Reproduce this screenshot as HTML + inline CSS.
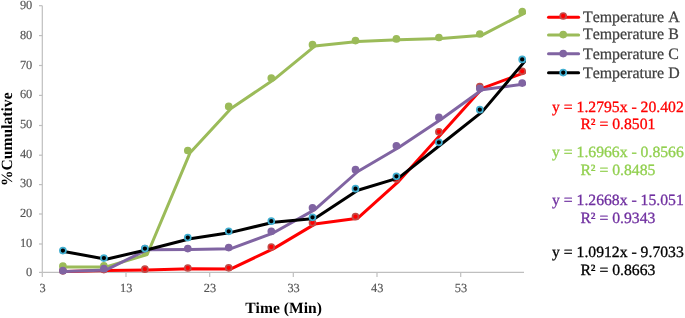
<!DOCTYPE html>
<html><head><meta charset="utf-8"><title>Chart</title>
<style>
html,body{margin:0;padding:0;background:#fff;}
body{width:685px;height:318px;overflow:hidden;}
svg{display:block;}
text{font-family:"Liberation Serif","Times New Roman",serif;text-rendering:geometricPrecision;font-kerning:none;}
.tk{font-size:12.4px;fill:#555;stroke:#555;stroke-width:0.15px;}
.ttl{font-size:15.6px;font-weight:bold;fill:#000;}
.lg{font-size:15.9px;fill:#404040;stroke:#404040;stroke-width:0.25px;}
.eq{font-size:15.7px;text-anchor:middle;stroke-width:0.3px;}
</style></head><body>
<svg width="685" height="318" viewBox="0 0 685 318">
<rect width="685" height="318" fill="#fff"/>

<g stroke="#bfbfbf" stroke-width="1.2" fill="none">
<line x1="42.3" y1="5.8" x2="42.3" y2="272.4"/>
<line x1="42.3" y1="272.4" x2="524" y2="272.4"/>
<line x1="39.0" y1="272.4" x2="42.3" y2="272.4"/>
<line x1="39.0" y1="244.0" x2="42.3" y2="244.0"/>
<line x1="39.0" y1="214.0" x2="42.3" y2="214.0"/>
<line x1="39.0" y1="184.6" x2="42.3" y2="184.6"/>
<line x1="39.0" y1="155.2" x2="42.3" y2="155.2"/>
<line x1="39.0" y1="125.5" x2="42.3" y2="125.5"/>
<line x1="39.0" y1="95.4" x2="42.3" y2="95.4"/>
<line x1="39.0" y1="65.5" x2="42.3" y2="65.5"/>
<line x1="39.0" y1="35.6" x2="42.3" y2="35.6"/>
<line x1="39.0" y1="5.7" x2="42.3" y2="5.7"/>
<line x1="42.3" y1="272.4" x2="42.3" y2="276.9"/>
<line x1="126.0" y1="272.4" x2="126.0" y2="276.9"/>
<line x1="209.7" y1="272.4" x2="209.7" y2="276.9"/>
<line x1="293.3" y1="272.4" x2="293.3" y2="276.9"/>
<line x1="377.0" y1="272.4" x2="377.0" y2="276.9"/>
<line x1="460.7" y1="272.4" x2="460.7" y2="276.9"/>
</g>
<text class="tk" x="32.3" y="276.1" text-anchor="end">0</text>
<text class="tk" x="32.3" y="246.5" text-anchor="end">10</text>
<text class="tk" x="32.3" y="216.8" text-anchor="end">20</text>
<text class="tk" x="32.3" y="187.2" text-anchor="end">30</text>
<text class="tk" x="32.3" y="157.6" text-anchor="end">40</text>
<text class="tk" x="32.3" y="127.9" text-anchor="end">50</text>
<text class="tk" x="32.3" y="98.3" text-anchor="end">60</text>
<text class="tk" x="32.3" y="68.7" text-anchor="end">70</text>
<text class="tk" x="32.3" y="39.1" text-anchor="end">80</text>
<text class="tk" x="32.3" y="9.4" text-anchor="end">90</text>
<text class="tk" x="42.6" y="291.7" text-anchor="middle">3</text>
<text class="tk" x="126.3" y="291.7" text-anchor="middle">13</text>
<text class="tk" x="210.0" y="291.7" text-anchor="middle">23</text>
<text class="tk" x="293.6" y="291.7" text-anchor="middle">33</text>
<text class="tk" x="377.3" y="291.7" text-anchor="middle">43</text>
<text class="tk" x="461.0" y="291.7" text-anchor="middle">53</text>
<text class="ttl" x="283.5" y="313" text-anchor="middle">Time (Min)</text>
<text class="ttl" transform="translate(11.8,139.2) rotate(-90)" text-anchor="middle">%Cumulative</text>
<polyline points="65.2,271.6 106.2,270.4 147.2,270.0 190.1,268.8 231.0,268.9 273.6,248.6 314.8,224.1 357.8,218.2 398.7,181.3 441.2,134.0 482.1,88.4 524.5,72.6" fill="none" stroke="#ff0000" stroke-width="3" stroke-linejoin="round" stroke-linecap="round"/>
<circle cx="62.9" cy="270.8" r="3.0" fill="#ff0000" stroke="#c24a47" stroke-width="1.7"/><circle cx="103.9" cy="269.6" r="3.0" fill="#ff0000" stroke="#c24a47" stroke-width="1.7"/><circle cx="144.9" cy="269.2" r="3.0" fill="#ff0000" stroke="#c24a47" stroke-width="1.7"/><circle cx="187.8" cy="268.0" r="3.0" fill="#ff0000" stroke="#c24a47" stroke-width="1.7"/><circle cx="228.7" cy="267.8" r="3.0" fill="#ff0000" stroke="#c24a47" stroke-width="1.7"/><circle cx="271.3" cy="247.0" r="3.0" fill="#ff0000" stroke="#c24a47" stroke-width="1.7"/><circle cx="312.5" cy="222.8" r="3.0" fill="#ff0000" stroke="#c24a47" stroke-width="1.7"/><circle cx="355.5" cy="216.7" r="3.0" fill="#ff0000" stroke="#c24a47" stroke-width="1.7"/><circle cx="396.4" cy="179.1" r="3.0" fill="#ff0000" stroke="#c24a47" stroke-width="1.7"/><circle cx="438.9" cy="131.8" r="3.0" fill="#ff0000" stroke="#c24a47" stroke-width="1.7"/><circle cx="479.8" cy="86.6" r="3.0" fill="#ff0000" stroke="#c24a47" stroke-width="1.7"/><circle cx="522.2" cy="71.3" r="3.0" fill="#ff0000" stroke="#c24a47" stroke-width="1.7"/>
<polyline points="65.2,267.0 106.2,266.9 147.2,254.5 190.1,152.7 231.0,108.4 273.6,79.8 314.8,46.1 357.8,41.5 398.7,39.8 441.2,38.4 482.1,35.2 524.5,13.1" fill="none" stroke="#9bbb59" stroke-width="3" stroke-linejoin="round" stroke-linecap="round"/>
<circle cx="62.9" cy="266.2" r="3.0" fill="#9bbb59" stroke="#9bbb59" stroke-width="1.7"/><circle cx="103.9" cy="265.9" r="3.0" fill="#9bbb59" stroke="#9bbb59" stroke-width="1.7"/><circle cx="144.9" cy="252.3" r="3.0" fill="#9bbb59" stroke="#9bbb59" stroke-width="1.7"/><circle cx="187.8" cy="150.5" r="3.0" fill="#9bbb59" stroke="#9bbb59" stroke-width="1.7"/><circle cx="228.7" cy="106.4" r="3.0" fill="#9bbb59" stroke="#9bbb59" stroke-width="1.7"/><circle cx="271.3" cy="78.0" r="3.0" fill="#9bbb59" stroke="#9bbb59" stroke-width="1.7"/><circle cx="312.5" cy="44.7" r="3.0" fill="#9bbb59" stroke="#9bbb59" stroke-width="1.7"/><circle cx="355.5" cy="40.6" r="3.0" fill="#9bbb59" stroke="#9bbb59" stroke-width="1.7"/><circle cx="396.4" cy="38.9" r="3.0" fill="#9bbb59" stroke="#9bbb59" stroke-width="1.7"/><circle cx="438.9" cy="37.5" r="3.0" fill="#9bbb59" stroke="#9bbb59" stroke-width="1.7"/><circle cx="479.8" cy="34.0" r="3.0" fill="#9bbb59" stroke="#9bbb59" stroke-width="1.7"/><circle cx="522.2" cy="11.6" r="3.0" fill="#9bbb59" stroke="#9bbb59" stroke-width="1.7"/>
<polyline points="65.2,271.6 106.2,269.9 147.2,249.7 190.1,249.4 231.0,248.7 273.6,232.8 314.8,209.6 357.8,171.5 398.7,147.5 441.2,119.2 482.1,89.8 524.5,84.1" fill="none" stroke="#8064a2" stroke-width="3" stroke-linejoin="round" stroke-linecap="round"/>
<circle cx="62.9" cy="270.7" r="3.0" fill="#8064a2" stroke="#8064a2" stroke-width="1.7"/><circle cx="103.9" cy="268.7" r="3.0" fill="#8064a2" stroke="#8064a2" stroke-width="1.7"/><circle cx="144.9" cy="248.6" r="3.0" fill="#8064a2" stroke="#8064a2" stroke-width="1.7"/><circle cx="187.8" cy="248.6" r="3.0" fill="#8064a2" stroke="#8064a2" stroke-width="1.7"/><circle cx="228.7" cy="247.6" r="3.0" fill="#8064a2" stroke="#8064a2" stroke-width="1.7"/><circle cx="271.3" cy="231.3" r="3.0" fill="#8064a2" stroke="#8064a2" stroke-width="1.7"/><circle cx="312.5" cy="207.8" r="3.0" fill="#8064a2" stroke="#8064a2" stroke-width="1.7"/><circle cx="355.5" cy="169.7" r="3.0" fill="#8064a2" stroke="#8064a2" stroke-width="1.7"/><circle cx="396.4" cy="145.8" r="3.0" fill="#8064a2" stroke="#8064a2" stroke-width="1.7"/><circle cx="438.9" cy="117.4" r="3.0" fill="#8064a2" stroke="#8064a2" stroke-width="1.7"/><circle cx="479.8" cy="88.4" r="3.0" fill="#8064a2" stroke="#8064a2" stroke-width="1.7"/><circle cx="522.2" cy="83.1" r="3.0" fill="#8064a2" stroke="#8064a2" stroke-width="1.7"/>
<polyline points="65.2,251.7 106.2,259.2 147.2,249.7 190.1,238.7 231.0,232.4 273.6,222.2 314.8,218.6 357.8,190.2 398.7,177.9 441.2,144.2 482.1,111.9 524.5,61.6" fill="none" stroke="#000000" stroke-width="3" stroke-linejoin="round" stroke-linecap="round"/>
<circle cx="62.9" cy="250.6" r="3.0" fill="#000000" stroke="#41aed0" stroke-width="1.7"/><circle cx="103.9" cy="258.1" r="3.0" fill="#000000" stroke="#41aed0" stroke-width="1.7"/><circle cx="144.9" cy="248.6" r="3.0" fill="#000000" stroke="#41aed0" stroke-width="1.7"/><circle cx="187.8" cy="237.6" r="3.0" fill="#000000" stroke="#41aed0" stroke-width="1.7"/><circle cx="228.7" cy="231.3" r="3.0" fill="#000000" stroke="#41aed0" stroke-width="1.7"/><circle cx="271.3" cy="221.2" r="3.0" fill="#000000" stroke="#41aed0" stroke-width="1.7"/><circle cx="312.5" cy="217.3" r="3.0" fill="#000000" stroke="#41aed0" stroke-width="1.7"/><circle cx="355.5" cy="188.7" r="3.0" fill="#000000" stroke="#41aed0" stroke-width="1.7"/><circle cx="396.4" cy="176.3" r="3.0" fill="#000000" stroke="#41aed0" stroke-width="1.7"/><circle cx="438.9" cy="142.3" r="3.0" fill="#000000" stroke="#41aed0" stroke-width="1.7"/><circle cx="479.8" cy="109.7" r="3.0" fill="#000000" stroke="#41aed0" stroke-width="1.7"/><circle cx="522.2" cy="59.4" r="3.0" fill="#000000" stroke="#41aed0" stroke-width="1.7"/>
<line x1="548.5" y1="17.3" x2="578.6" y2="17.3" stroke="#ff0000" stroke-width="3" stroke-linecap="round"/>
<circle cx="563.2" cy="16.0" r="3.0" fill="#ff0000" stroke="#c24a47" stroke-width="1.7"/>
<text class="lg" x="583" y="21.5">Temperature A</text>
<line x1="548.5" y1="35.0" x2="578.6" y2="35.0" stroke="#9bbb59" stroke-width="3" stroke-linecap="round"/>
<circle cx="563.2" cy="34.6" r="3.0" fill="#9bbb59" stroke="#9bbb59" stroke-width="1.7"/>
<text class="lg" x="583" y="39.4">Temperature B</text>
<line x1="548.5" y1="53.8" x2="578.6" y2="53.8" stroke="#8064a2" stroke-width="3" stroke-linecap="round"/>
<circle cx="563.2" cy="53.6" r="3.0" fill="#8064a2" stroke="#8064a2" stroke-width="1.7"/>
<text class="lg" x="583" y="58.8">Temperature C</text>
<line x1="548.5" y1="72.8" x2="578.6" y2="72.8" stroke="#000000" stroke-width="3" stroke-linecap="round"/>
<circle cx="563.2" cy="72.6" r="3.0" fill="#000000" stroke="#41aed0" stroke-width="1.7"/>
<text class="lg" x="583" y="77.5">Temperature D</text>
<text class="eq" fill="#ff0000" stroke="#ff0000" x="617.9" y="112.0">y = 1.2795x - 20.402</text>
<text class="eq" fill="#ff0000" stroke="#ff0000" x="617.9" y="129.4">R² = 0.8501</text>
<text class="eq" fill="#92d050" stroke="#92d050" x="617.9" y="157.1">y = 1.6966x - 0.8566</text>
<text class="eq" fill="#92d050" stroke="#92d050" x="617.9" y="174.6">R² = 0.8485</text>
<text class="eq" fill="#7030a0" stroke="#7030a0" x="617.9" y="205.1">y = 1.2668x - 15.051</text>
<text class="eq" fill="#7030a0" stroke="#7030a0" x="617.9" y="222.6">R² = 0.9343</text>
<text class="eq" fill="#000000" stroke="#000000" x="617.9" y="257.3">y = 1.0912x - 9.7033</text>
<text class="eq" fill="#000000" stroke="#000000" x="617.9" y="274.6">R² = 0.8663</text>
</svg></body></html>
